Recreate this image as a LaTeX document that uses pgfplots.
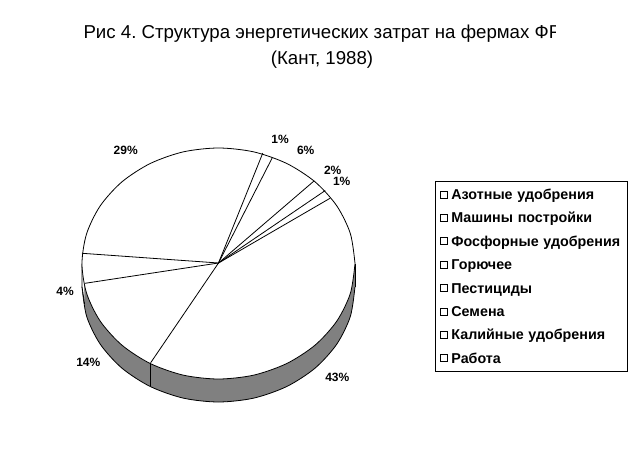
\documentclass[border=0pt]{standalone}
\usepackage{fontspec}
\setmainfont{Liberation Sans}
\frenchspacing
\usepackage{pgfplots}
\usepackage{pgfplotstable}
\pgfplotsset{compat=1.18}

\definecolor{sidegray}{HTML}{808080}

% rim of the pie top, in picture pixels
\pgfplotstableread{
x y
355.0 263.5
350.35 233.6
336.7 205.75
315.0 181.8
286.75 163.5
253.8 151.9
218.5 148.0
183.2 151.9
150.25 163.5
122.0 181.8
100.3 205.75
86.65 233.6
82.0 263.5
86.65 293.4
100.3 321.25
122.0 345.2
150.25 363.5
183.2 375.1
218.5 379.0
253.8 375.1
286.75 363.5
315.0 345.2
336.7 321.25
350.35 293.4
355.0 263.5
}\rimtop

% rim of the pie bottom
\pgfplotstableread{
x y
355.0 286.5
350.35 316.4
336.7 344.25
315.0 368.2
286.75 386.5
253.8 398.1
218.5 402.0
183.2 398.1
150.25 386.5
122.0 368.2
100.3 344.25
86.65 316.4
82.0 286.5
}\rimbottom

% value labels
\pgfplotstableread{
x y label
125.7 150.7 29\%
280.0 139.0 1\%
305.7 150.7 6\%
332.7 170.7 2\%
341.7 181.7 1\%
65.0 291.0 4\%
88.3 362.7 14\%
337.3 377.3 43\%
}\labels

\pgfplotsset{
    pie/.style={forget plot, no markers, line width=0.8bp, black},
    spoke/.style={pie, line cap=round},
}

\begin{document}
\begin{tikzpicture}
    \begin{axis}[
        scale only axis,
        width=636bp,
        height=473bp,
        xmin=0, xmax=636,
        ymin=0, ymax=473,
        y dir=reverse,
        hide axis,
        clip=false,
        legend style={
            at={(axis cs:435.3,181)},
            anchor=north west,
            draw=black,
            line width=0.8bp,
            font=\bfseries\fontsize{14.3bp}{16bp}\selectfont,
            inner xsep=4.5bp,
            inner ysep=5bp,
            /tikz/row sep=7.4bp,
            /tikz/column sep=3.5bp,
            nodes={inner sep=0pt, text height=13bp, text depth=3bp, text width=171bp, align=left},
        },
        legend cell align={left},
        legend image code/.code={
            \draw[black, line width=0.7bp, fill=white] (3bp,-3.5bp) rectangle (10bp,3.5bp);
        },
    ]
    % page corners
    \addplot[forget plot, draw=none] coordinates {(0,0) (636,473)};

    % side of the pie
    \addplot[pie, smooth, fill=sidegray] table[x=x, y=y] {\rimbottom};
    \addplot[forget plot, draw=none, fill=sidegray] coordinates {
        (83,263.5) (355,263.5) (355,286.5) (83,286.5)
    } -- cycle;
    \addplot[forget plot, draw=none, fill=white] coordinates {
        (82,263.5) (84,283) (84.6,304) (82,286.5)
    } -- cycle;
    \addplot[pie] coordinates {(355,263.5) (355,286.5)};
    \addplot[pie] coordinates {(82,263.5) (82,286.5) (84.6,304)};

    % top of the pie
    \addplot[pie, smooth, fill=white] table[x=x, y=y] {\rimtop};

    % slice edges
    \addplot[spoke] coordinates {(218.5,263) (262.7,153.3)};
    \addplot[spoke] coordinates {(218.5,263) (272.3,157.7)};
    \addplot[spoke] coordinates {(218.5,263) (314,181)};
    \addplot[spoke] coordinates {(218.5,263) (325,190.7)};
    \addplot[spoke] coordinates {(218.5,263) (330,198.3)};
    \addplot[spoke] coordinates {(218.5,263) (82.3,253.3)};
    \addplot[spoke] coordinates {(218.5,263) (85,283.3)};
    \addplot[spoke] coordinates {(218.5,263) (150.7,362.7)};
    \addplot[pie] coordinates {(150.7,362.7) (150.7,386.4)};

    % percent labels
    \addplot[
        forget plot, only marks, mark=none,
        point meta=explicit symbolic,
        nodes near coords,
        nodes near coords style={anchor=center, inner sep=0pt, black,
            font=\bfseries\fontsize{12bp}{14bp}\selectfont},
    ] table[x=x, y=y, meta=label] {\labels};

    % legend
    \addlegendimage{black}
    \addlegendentry{Азотные удобрения}
    \addlegendimage{black}
    \addlegendentry{Машины постройки}
    \addlegendimage{black}
    \addlegendentry{Фосфорные удобрения}
    \addlegendimage{black}
    \addlegendentry{Горючее}
    \addlegendimage{black}
    \addlegendentry{Пестициды}
    \addlegendimage{black}
    \addlegendentry{Семена}
    \addlegendimage{black}
    \addlegendentry{Калийные удобрения}
    \addlegendimage{black}
    \addlegendentry{Работа}

    % title, cut off on the right as in the source
    \begin{scope}
        \clip (axis cs:0,0) rectangle (axis cs:555.5,100);
        \node[anchor=base west, inner sep=0pt, font=\fontsize{18.67bp}{20bp}\selectfont]
            at (axis cs:83.3,38.8) {Рис 4. Структура энергетических затрат на фермах ФР};
    \end{scope}
    \node[anchor=base, inner sep=0pt, font=\fontsize{18.67bp}{20bp}\selectfont]
        at (axis cs:322,64.5) {(Кант, 1988)};
    \end{axis}
\end{tikzpicture}
\end{document}
